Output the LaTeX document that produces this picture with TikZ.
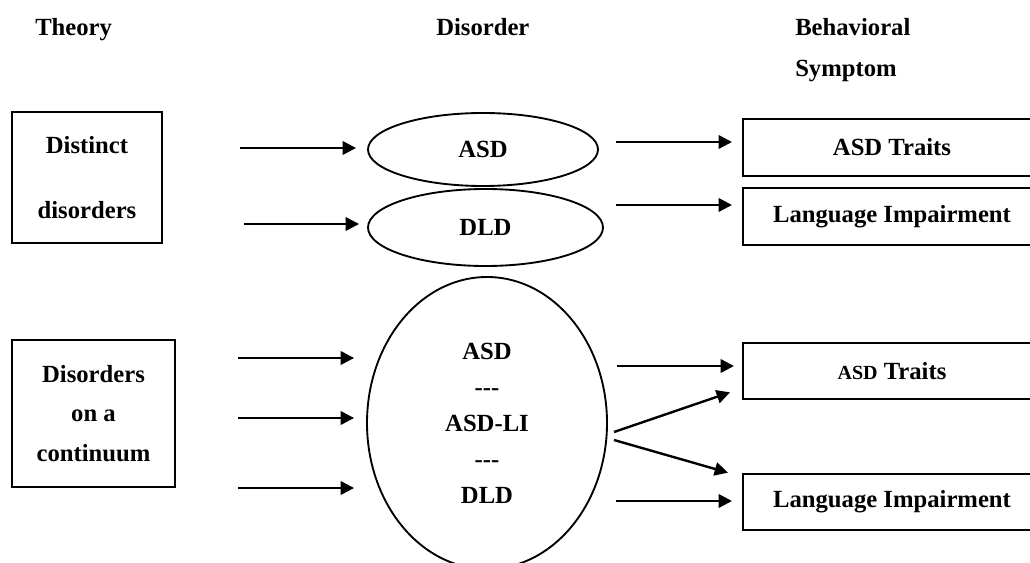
\documentclass[tikz,border=0pt]{standalone}
\usepackage{fontspec}
\setmainfont{Liberation Serif}
\usetikzlibrary{shapes.geometric,arrows.meta,calc}
\tikzset{
  txt/.style={font=\fontsize{18.5}{22}\selectfont\bfseries, inner sep=0pt},
  theorybox/.style={draw, line width=1.3pt, inner sep=0pt, align=center},
  disell/.style={draw, ellipse, line width=1.4pt, inner sep=0pt, align=center, font=\fontsize{18.5}{22}\selectfont\bfseries},
  symbox/.style={draw, line width=1.5pt, inner sep=0pt, minimum width=223.5pt, minimum height=42.5pt, font=\fontsize{18.5}{22}\selectfont\bfseries},
  arr/.style={line width=1.8pt, -{Triangle[length=10pt,width=10pt]}}
}
\begin{document}
\begin{tikzpicture}[x=0.75pt,y=-0.75pt]
\useasboundingbox (0,0) rectangle (1030,563);
\clip (0,0) rectangle (1030,563);
% headers
\node[txt, anchor=base west] (hth) at (35,36) {Theory};
\node[txt, anchor=base west] (hdis) at (436,36) {Disorder};
\node[txt, anchor=base west] (hbeh) at (795,36) {Behavioral};
\node[txt, anchor=base west] (hsym) at (795,77) {Symptom};
% theory boxes
\node[theorybox, minimum width=112.5pt, minimum height=98.25pt, font=\fontsize{18.5}{48.75}\selectfont\bfseries] (dist) at (87,177.5) {Distinct\\disorders};
\node[theorybox, minimum width=122.25pt, minimum height=110.25pt, font=\fontsize{18.5}{29.6}\selectfont\bfseries] (cont) at (93.5,413.5) {Disorders\\on a\\continuum};
% disorder ellipses
\node[disell, minimum width=172.5pt, minimum height=54.75pt] (asd) at (483,149.5) {ASD};
\node[disell, minimum width=176.25pt, minimum height=57.75pt] (dld) at (485.5,227.5) {DLD};
\node[disell, minimum width=180pt, minimum height=219pt, font=\fontsize{18.5}{27}\selectfont\bfseries] (big) at (487,423) {ASD\\-{}-{}-\\ASD-LI\\-{}-{}-\\DLD};
% symptom boxes
\node[symbox] (t1) at (892,147.5) {ASD Traits};
\node[symbox] (l1) at (892,216.5) {Language Impairment};
\node[symbox] (t2) at (892,371) {{\fontsize{15}{18}\selectfont ASD} Traits};
\node[symbox] (l2) at (892,502) {Language Impairment};
% free arrow ends
\coordinate (c1) at (240,148);
\coordinate (c2) at (244,224);
\coordinate (r1) at (616,142);
\coordinate (r2) at (616,205);
\coordinate (c3) at (238,358);
\coordinate (c4) at (238,418);
\coordinate (c5) at (238,488);
\coordinate (r3) at (617,366);
\coordinate (d1) at (614,432);
\coordinate (d2) at (614,440);
\coordinate (r4) at (616,501);
% arrows
\draw[arr, shorten >=8.25pt] (c1) -- (c1 -| asd.west);
\draw[arr, shorten >=6pt] (c2) -- (c2 -| dld.west);
\draw[arr, shorten >=7.5pt] (r1) -- (r1 -| t1.west);
\draw[arr, shorten >=7.5pt] (r2) -- (r2 -| l1.west);
\draw[arr, shorten >=9pt] (c3) -- (c3 -| big.west);
\draw[arr, shorten >=9pt] (c4) -- (c4 -| big.west);
\draw[arr, shorten >=9pt] (c5) -- (c5 -| big.west);
\draw[arr, shorten >=6pt] (r3) -- (r3 -| t2.west);
\draw[arr] (d1) -- ($(t2.south west)+(-12,-8)$);
\draw[arr] (d2) -- ($(l2.north west)+(-14,0)$);
\draw[arr, shorten >=7.5pt] (r4) -- (r4 -| l2.west);
\end{tikzpicture}
\end{document}
